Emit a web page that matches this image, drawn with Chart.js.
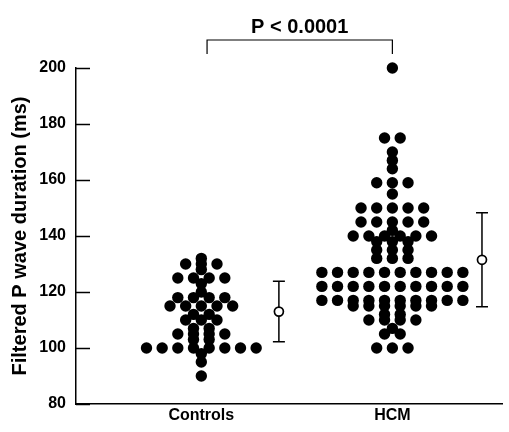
<!DOCTYPE html>
<html>
<head>
<meta charset="utf-8">
<script src="https://cdn.jsdelivr.net/npm/chart.js@4.4.1/dist/chart.umd.min.js"></script>
<style>
html, body { margin: 0; padding: 0; background: #fff; }
</style>
</head>
<body>
<canvas id="myChart" width="509" height="432"></canvas>
<script>
// values (ms), one entry per subject
const groups = ['Controls', 'HCM'];
const controls = [132, 130, 130, 130, 128, 125, 125, 125, 125, 123, 120,
  118, 118, 118, 118, 115, 115, 115, 115, 115, 112, 112, 110, 110, 110,
  107, 107, 105, 105, 105, 105, 103, 103,
  100, 100, 100, 100, 100, 100, 100, 100, 98, 95, 90];
const hcm = [200, 175, 175, 170, 167, 164, 159, 159, 159, 155,
  150, 150, 150, 150, 150, 145, 145, 145, 145, 145, 142,
  140, 140, 140, 140, 140, 140, 138, 138, 138, 135, 135, 135, 132, 132, 132,
  127, 127, 127, 127, 127, 127, 127, 127, 127, 127,
  122, 122, 122, 122, 122, 122, 122, 122, 122, 122,
  117, 117, 117, 117, 117, 117, 117, 117, 117, 117,
  115, 115, 115, 115, 115, 115, 112, 112, 110, 110, 110, 110,
  107, 105, 105, 100, 100, 100];
const means = [113, 131.5];
const sds = [10.8, 16.8];
const yTicks = [80, 100, 120, 140, 160, 180, 200];
const pLabel = 'P < 0.0001';

const FONT = "'Liberation Sans', Arial, sans-serif";
const groupPos = [1, 2];
const summaryPos = [1.406, 2.469];
const dotGap = 0.082;

// lay equal values side by side, centred on the group
function swarm(values, centre) {
  const rows = {};
  values.forEach(v => { (rows[v] = rows[v] || []).push(v); });
  const pts = [];
  Object.keys(rows).forEach(k => {
    const n = rows[k].length;
    for (let i = 0; i < n; i++) {
      pts.push({ x: centre + (i - (n - 1) / 2) * dotGap, y: +k });
    }
  });
  return pts;
}

const extras = {
  id: 'extras',
  beforeDatasetsDraw(chart) {
    const { ctx, chartArea, scales: { x, y } } = chart;
    ctx.save();
    ctx.strokeStyle = '#000';
    ctx.lineWidth = 1.5;
    // inward tick marks
    yTicks.forEach(t => {
      const py = Math.round(y.getPixelForValue(t)) + 0.5;
      ctx.beginPath();
      ctx.moveTo(chartArea.left, py);
      ctx.lineTo(chartArea.left + 14, py);
      ctx.stroke();
    });
    // mean +/- SD bars
    means.forEach((m, i) => {
      const px = x.getPixelForValue(summaryPos[i]);
      const top = y.getPixelForValue(m + sds[i]);
      const bot = y.getPixelForValue(m - sds[i]);
      ctx.beginPath();
      ctx.moveTo(px, top); ctx.lineTo(px, bot);
      ctx.moveTo(px - 6, top); ctx.lineTo(px + 6, top);
      ctx.moveTo(px - 6, bot); ctx.lineTo(px + 6, bot);
      ctx.stroke();
    });
    // significance bracket
    const bx1 = x.getPixelForValue(1.03), bx2 = x.getPixelForValue(2.0);
    const by = y.getPixelForValue(210), byEnd = y.getPixelForValue(205);
    ctx.lineWidth = 1.2;
    ctx.beginPath();
    ctx.moveTo(bx1, byEnd); ctx.lineTo(bx1, by); ctx.lineTo(bx2, by); ctx.lineTo(bx2, byEnd);
    ctx.stroke();
    ctx.fillStyle = '#000';
    ctx.font = 'bold 20px ' + FONT;
    ctx.textAlign = 'center';
    ctx.textBaseline = 'middle';
    ctx.fillText(pLabel, (bx1 + bx2) / 2, y.getPixelForValue(214.6));
    ctx.restore();
  }
};

const ctx = document.getElementById('myChart');
new Chart(ctx, {
  type: 'scatter',
  data: {
    datasets: [
      { data: swarm(controls, groupPos[0]), backgroundColor: '#000', borderWidth: 0, pointRadius: 5.7, clip: false },
      { data: swarm(hcm, groupPos[1]), backgroundColor: '#000', borderWidth: 0, pointRadius: 5.7, clip: false },
      {
        data: means.map((m, i) => ({ x: summaryPos[i], y: m })),
        backgroundColor: '#fff', borderColor: '#000', borderWidth: 1.7, pointRadius: 4.5, clip: false
      }
    ]
  },
  options: {
    responsive: false,
    animation: false,
    layout: { padding: { top: 68, right: 4, left: 0, bottom: 0 } },
    plugins: { legend: { display: false }, tooltip: { enabled: false } },
    scales: {
      x: {
        type: 'linear',
        min: 0.344,
        max: 2.578,
        afterBuildTicks: s => { s.ticks = groupPos.map(v => ({ value: v })); },
        afterFit: s => { s.height = 28; },
        grid: { display: false, drawTicks: false },
        border: { display: true, color: '#000', width: 1.5 },
        ticks: {
          padding: 2,
          color: '#000',
          font: { family: FONT, size: 16, weight: 'bold' },
          callback: v => groups[groupPos.indexOf(v)]
        }
      },
      y: {
        min: 80,
        max: 200,
        afterBuildTicks: s => { s.ticks = yTicks.map(v => ({ value: v })); },
        afterFit: s => { s.width = 76; },
        grid: { display: false, drawTicks: false },
        border: { display: true, color: '#000', width: 1.5 },
        ticks: {
          padding: 10,
          color: '#000',
          font: { family: FONT, size: 16, weight: 'bold' }
        },
        title: {
          display: true,
          text: 'Filtered P wave duration (ms)',
          color: '#000',
          padding: { top: 8.5, bottom: 0 },
          font: { family: FONT, size: 20, weight: 'bold', lineHeight: 1.2 }
        }
      }
    }
  },
  plugins: [extras]
});
</script>
</body>
</html>
